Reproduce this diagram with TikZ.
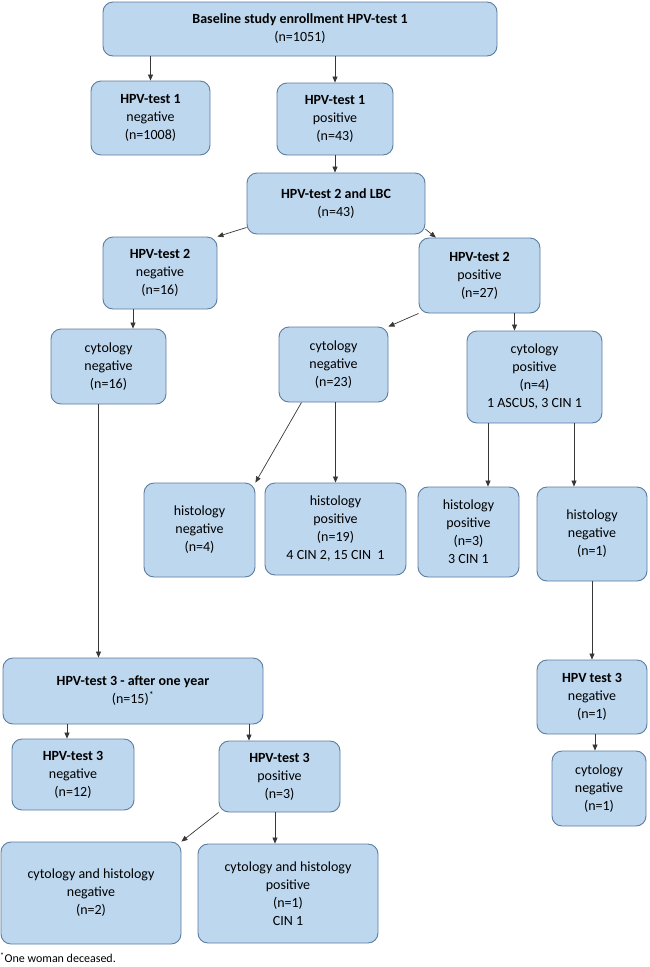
\documentclass[tikz,border=0pt]{standalone}
\usepackage{fontspec}
\setmainfont{Carlito}
\usetikzlibrary{arrows.meta}
\definecolor{boxfill}{RGB}{189,215,238}
\definecolor{boxline}{RGB}{92,124,160}
\definecolor{wire}{RGB}{55,55,55}

\begin{document}
\begin{tikzpicture}[x=1pt, y=-1pt,
    box/.style={draw=boxline, fill=boxfill, line width=0.9pt, rounded corners=10pt,
      align=center, inner sep=0pt, font=\fontsize{14}{18}\selectfont},
    arr/.style={draw=wire, line width=0.7pt, -{Triangle[length=6pt,width=5pt]}}]
  \useasboundingbox (0,0) rectangle (650,967);
  % Boxes, top to bottom:
  \node[box, minimum width=394pt, minimum height=54pt] (base) at (300,29) {\textbf{Baseline study enrollment HPV-test 1}\\(n=1051)};
  \node[box, minimum width=119pt, minimum height=74pt] (neg1) at (150.5,118) {\textbf{HPV-test 1}\\negative\\(n=1008)};
  \node[box, minimum width=116pt, minimum height=72pt] (pos1) at (335,119) {\textbf{HPV-test 1}\\positive\\(n=43)};
  \node[box, minimum width=178pt, minimum height=61pt] (lbc) at (336,203.5) {\textbf{HPV-test 2 and LBC}\\(n=43)};
  \node[box, minimum width=114pt, minimum height=72pt] (neg2) at (160,273) {\textbf{HPV-test 2}\\negative\\(n=16)};
  \node[box, minimum width=121pt, minimum height=75pt] (pos2) at (479.5,275.5) {\textbf{HPV-test 2}\\positive\\(n=27)};
  \node[box, minimum width=115pt, minimum height=75pt] (cytn1) at (108.5,366.5) {cytology\\negative\\(n=16)};
  \node[box, minimum width=109pt, minimum height=75pt] (cytn2) at (333.5,364.5) {cytology\\negative\\(n=23)};
  \node[box, minimum width=135pt, minimum height=92pt] (cytpos) at (534.5,377) {cytology\\positive\\(n=4)\\1 ASCUS, 3 CIN 1};
  \node[box, minimum width=111pt, minimum height=94pt] (histn1) at (199.5,530) {histology\\negative\\(n=4)};
  \node[box, minimum width=141pt, minimum height=92pt] (histp1) at (335.5,529) {histology\\positive\\(n=19)\\4 CIN 2, 15 CIN\ \ 1};
  \node[box, minimum width=101pt, minimum height=90pt] (histp2) at (468.5,532) {histology\\positive\\(n=3)\\3 CIN 1};
  \node[box, minimum width=110pt, minimum height=94pt] (histn2) at (592,534) {histology\\negative\\(n=1)};
  \node[box, minimum width=260pt, minimum height=66pt] (hpv3) at (133,691) {\textbf{HPV-test 3 - after one year}\\(n=15)\textsuperscript{*}};
  \node[box, minimum width=110pt, minimum height=74pt] (hpv3r) at (592,697) {\textbf{HPV test 3}\\negative\\(n=1)};
  \node[box, minimum width=122pt, minimum height=71pt] (neg3) at (73,774.5) {\textbf{HPV-test 3}\\negative\\(n=12)};
  \node[box, minimum width=121pt, minimum height=71pt] (pos3) at (279.5,776.5) {\textbf{HPV-test 3}\\positive\\(n=3)};
  \node[box, minimum width=94pt, minimum height=75pt] (cytnr) at (599,788.5) {cytology\\negative\\(n=1)};
  \node[box, minimum width=180pt, minimum height=102pt] (chn) at (91,893) {cytology and histology\\negative\\(n=2)};
  \node[box, minimum width=180pt, minimum height=99pt] (chp) at (288,893.5) {cytology and histology\\positive\\(n=1)\\CIN 1};
  \node[anchor=west, inner sep=0pt, font=\fontsize{12}{13}\selectfont] (note) at (0,958) {\textsuperscript{*}One woman deceased.};
  % Arrow feet:
  \coordinate (a1) at ([xshift=-27pt]neg2.south);
  \coordinate (a2) at ([xshift=-20pt]cytpos.north);
  \coordinate (a3) at ([xshift=-10pt]cytn1.south);
  \coordinate (a4) at ([xshift=-32pt]cytn2.south);
  \coordinate (a5) at ([xshift=19.5pt]histp2.north);
  \coordinate (a6) at ([xshift=-18pt]histn2.north);
  \coordinate (a7) at ([xshift=-4pt]cytnr.north);
  \coordinate (a8) at ([xshift=-6pt]neg3.north);
  \coordinate (a9) at ([xshift=-30.5pt]pos3.north);
  \coordinate (a10) at ([xshift=-13pt]chp.north);
  % Arrows:
  \draw[arr] (neg1.north |- base.south) -- (neg1.north);
  \draw[arr] (pos1.north |- base.south) -- (pos1.north);
  \draw[arr] (pos1.south) -- (pos1.south |- lbc.north);
  \draw[arr] (lbc.195) -- (neg2.north east);
  \draw[arr] (lbc.-16) -- (pos2.139);
  \draw[arr] (a1) -- (a1 |- cytn1.north);
  \draw[arr] (pos2.south west) -- (cytn2.north east);
  \draw[arr] (a2 |- pos2.south) -- (a2);
  \draw[arr] (a3) -- (a3 |- hpv3.north);
  \draw[arr] (a4) -- (histn1.north east);
  \draw[arr] (histp1.north |- cytn2.south) -- (histp1.north);
  \draw[arr] (a5 |- cytpos.south) -- (a5);
  \draw[arr] (a6 |- cytpos.south) -- (a6);
  \draw[arr] (hpv3r.north |- histn2.south) -- (hpv3r.north);
  \draw[arr] (a7 |- hpv3r.south) -- (a7);
  \draw[arr] (a8 |- hpv3.south) -- (a8);
  \draw[arr] (a9 |- hpv3.south) -- (a9);
  \draw[arr] (pos3.south west) -- (chn.north east);
  \draw[arr] (a10 |- pos3.south) -- (a10);
\end{tikzpicture}
\end{document}
